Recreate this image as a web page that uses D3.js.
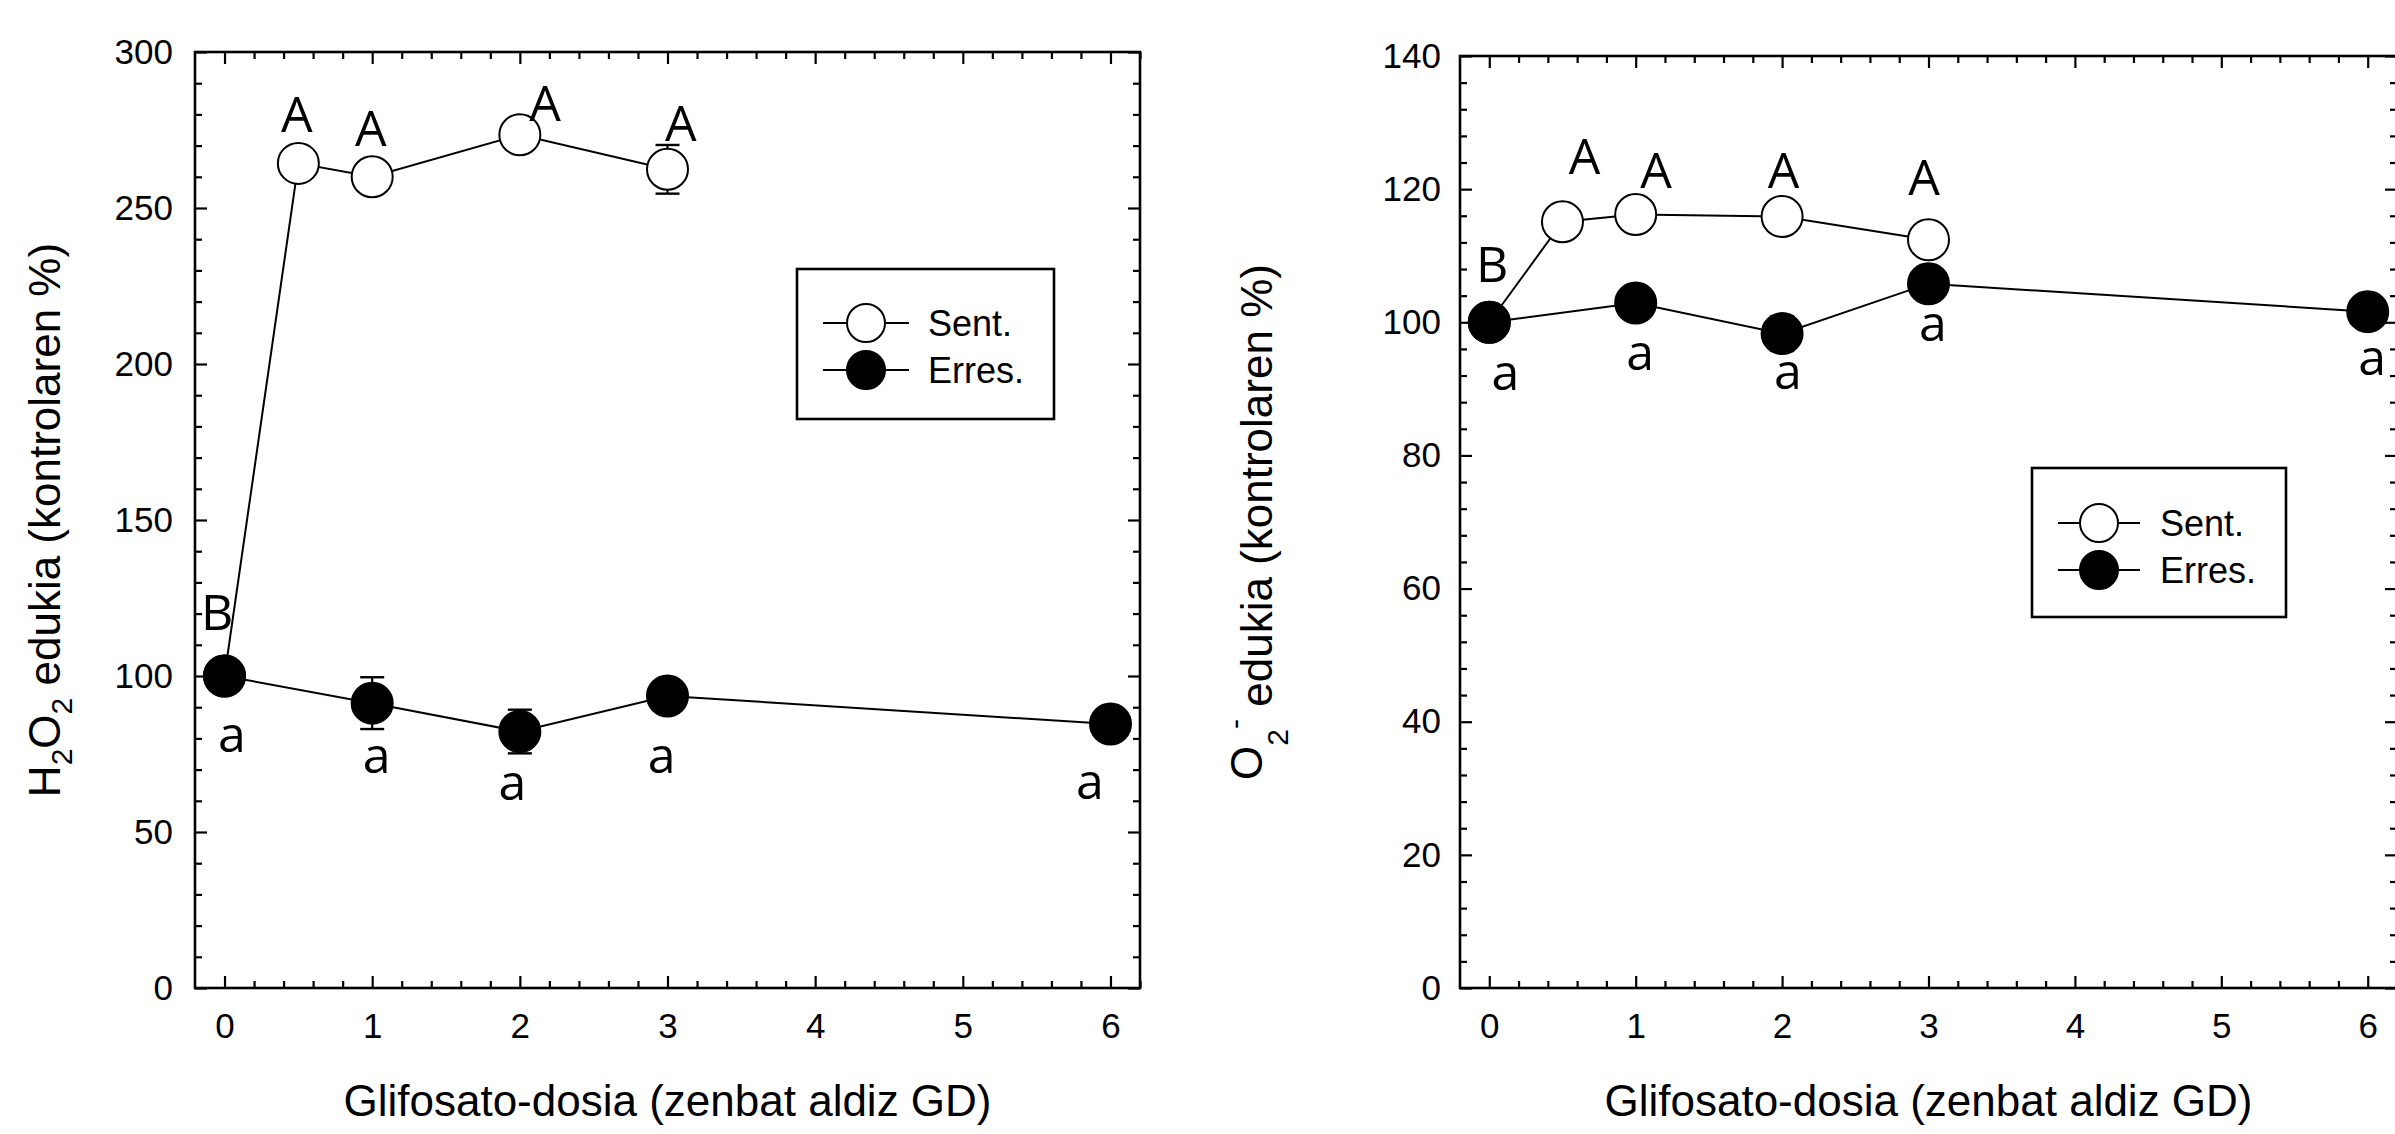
<!DOCTYPE html>
<html><head><meta charset="utf-8">
<script src="https://cdn.jsdelivr.net/npm/d3@7"></script>
<style>body{margin:0;background:#fff} svg{display:block}</style>
</head><body>
<svg id="chart" width="2395" height="1134"></svg>
<script>
// ---------- DATA ----------
const xTicks = [0, 1, 2, 3, 4, 5, 6];
const seriesNames = ["Sent.", "Erres."];

// Panel 1: H2O2
const h2o2SentX = [0, 0.5, 1, 2, 3];
const h2o2SentY = [100, 264.3, 260.0, 273.5, 262.4];
const h2o2SentErr = [0, 0, 0, 0, 7.8];
const h2o2ErresX = [0, 1, 2, 3, 6];
const h2o2ErresY = [100, 91.3, 82.2, 93.6, 84.6];
const h2o2ErresErr = [0, 8.3, 7.0, 0, 0];
const h2o2YTicks = [0, 50, 100, 150, 200, 250, 300];
const h2o2LetterText = ["B", "a", "a", "a", "a", "a", "A", "A", "A", "A"];
const h2o2LetterX = [-0.05, 0.05, 1.03, 1.95, 2.96, 5.86, 0.49, 0.99, 2.17, 3.09];
const h2o2LetterY = [114.7, 75.7, 68.8, 60.2, 68.8, 60.6, 274.5, 269.8, 277.8, 271.6];

// Panel 2: O2-
const o2SentX = [0, 0.5, 1, 2, 3];
const o2SentY = [100, 115.1, 116.2, 115.9, 112.4];
const o2SentErr = [0, 0, 0, 0, 0];
const o2ErresX = [0, 1, 2, 3, 6];
const o2ErresY = [100, 102.9, 98.3, 105.8, 101.6];
const o2ErresErr = [0, 0, 2.6, 0, 0];
const o2YTicks = [0, 20, 40, 60, 80, 100, 120, 140];
const o2LetterText = ["B", "a", "a", "a", "a", "a", "A", "A", "A", "A"];
const o2LetterX = [0.02, 0.11, 1.03, 2.04, 3.03, 6.03, 0.65, 1.14, 2.01, 2.97];
const o2LetterY = [106.1, 89.8, 92.9, 90.0, 97.2, 92.1, 122.2, 120.2, 120.2, 119.1];

const xTitle = "Glifosato-dosia (zenbat aldiz GD)";

// ---------- DRAW ----------
const svg = d3.select("#chart");
svg.append("rect").attr("width", 2395).attr("height", 1134).attr("fill", "#fff");

const SANS = "'Liberation Sans', Arial, sans-serif";
const LETTER = "'Open Sans', 'Noto Sans', sans-serif";

function panel(cfg) {
  const g = svg.append("g");
  const x = d3.scaleLinear().domain([-0.2, 6.2]).range([cfg.left, cfg.right]);
  const y = d3.scaleLinear().domain([0, cfg.yMax]).range([cfg.bottom, cfg.top]);
  const xMinor = d3.range(0, 6.2001, 0.2).filter(v => Math.abs(v - Math.round(v)) > 1e-6);
  const yMinor = d3.range(0, cfg.yMax + 0.001, cfg.yMinorStep).filter(v => !cfg.yTicks.includes(Math.round(v * 1000) / 1000));

  function styleAxis(sel) {
    sel.select(".domain").remove();
    sel.selectAll(".tick line").attr("stroke", "#000").attr("stroke-width", 2.2);
    sel.selectAll(".tick text").attr("fill", "#000").attr("font-family", SANS).attr("font-size", 35);
  }
  // bottom
  g.append("g").attr("transform", `translate(0,${cfg.bottom})`)
    .call(d3.axisBottom(x).tickValues(xTicks).tickSize(-12).tickPadding(25).tickFormat(d3.format("d"))).call(styleAxis);
  g.append("g").attr("transform", `translate(0,${cfg.bottom})`)
    .call(d3.axisBottom(x).tickValues(xMinor).tickSize(-7).tickFormat("")).call(styleAxis);
  // top
  g.append("g").attr("transform", `translate(0,${cfg.top})`)
    .call(d3.axisTop(x).tickValues(xTicks).tickSize(-12).tickFormat("")).call(styleAxis);
  g.append("g").attr("transform", `translate(0,${cfg.top})`)
    .call(d3.axisTop(x).tickValues(xMinor).tickSize(-7).tickFormat("")).call(styleAxis);
  // left
  g.append("g").attr("transform", `translate(${cfg.left},0)`)
    .call(d3.axisLeft(y).tickValues(cfg.yTicks).tickSize(-12).tickPadding(cfg.yPad).tickFormat(d3.format("d"))).call(styleAxis);
  g.append("g").attr("transform", `translate(${cfg.left},0)`)
    .call(d3.axisLeft(y).tickValues(yMinor).tickSize(-7).tickFormat("")).call(styleAxis);
  // right
  g.append("g").attr("transform", `translate(${cfg.right},0)`)
    .call(d3.axisRight(y).tickValues(cfg.yTicks).tickSize(-12).tickFormat("")).call(styleAxis);
  g.append("g").attr("transform", `translate(${cfg.right},0)`)
    .call(d3.axisRight(y).tickValues(yMinor).tickSize(-7).tickFormat("")).call(styleAxis);

  // frame
  g.append("rect").attr("x", cfg.left).attr("y", cfg.top)
    .attr("width", cfg.right - cfg.left).attr("height", cfg.bottom - cfg.top)
    .attr("fill", "none").attr("stroke", "#000").attr("stroke-width", 2.6);

  const line = d3.line().x(d => x(d[0])).y(d => y(d[1]));
  const R = 20.5;
  function drawSeries(xs, ys, errs, fill) {
    const pts = xs.map((v, i) => [v, ys[i], errs[i]]);
    g.append("path").datum(pts).attr("d", line).attr("fill", "none")
      .attr("stroke", "#000").attr("stroke-width", 2);
    const eb = g.append("g");
    pts.filter(p => p[2] > 0).forEach(p => {
      const cx = x(p[0]);
      eb.append("line").attr("x1", cx).attr("x2", cx).attr("y1", y(p[1] - p[2])).attr("y2", y(p[1] + p[2]))
        .attr("stroke", "#000").attr("stroke-width", 2.2);
      [p[1] - p[2], p[1] + p[2]].forEach(v => {
        eb.append("line").attr("x1", cx - 12).attr("x2", cx + 12).attr("y1", y(v)).attr("y2", y(v))
          .attr("stroke", "#000").attr("stroke-width", 2.4);
      });
    });
    g.append("g").selectAll("circle").data(pts).join("circle")
      .attr("cx", d => x(d[0])).attr("cy", d => y(d[1])).attr("r", R)
      .attr("fill", fill).attr("stroke", "#000").attr("stroke-width", 2);
  }
  drawSeries(cfg.sentX, cfg.sentY, cfg.sentErr, "#fff");
  drawSeries(cfg.erresX, cfg.erresY, cfg.erresErr, "#000");

  // letters
  g.append("g").selectAll("text").data(cfg.letterText).join("text")
    .attr("x", (d, i) => x(cfg.letterX[i])).attr("y", (d, i) => y(cfg.letterY[i]))
    .attr("text-anchor", "middle").attr("font-family", LETTER).attr("font-size", 50)
    .attr("fill", "#000").text(d => d);

  // x title
  g.append("text").attr("x", (cfg.left + cfg.right) / 2).attr("y", 1116)
    .attr("text-anchor", "middle").attr("font-family", SANS).attr("font-size", 44)
    .attr("fill", "#000").text(xTitle);

  // y title
  const yt = g.append("text")
    .attr("transform", `translate(${cfg.yTitleX},${(cfg.top + cfg.bottom) / 2}) rotate(-90)`)
    .attr("text-anchor", "middle").attr("font-family", SANS).attr("font-size", 44).attr("fill", "#000");
  cfg.yTitle(yt);

  // legend
  const L = cfg.legend;
  const lg = g.append("g");
  lg.append("rect").attr("x", L.x0).attr("y", L.y0).attr("width", L.x1 - L.x0).attr("height", L.y1 - L.y0)
    .attr("fill", "#fff").attr("stroke", "#000").attr("stroke-width", 2.6);
  seriesNames.forEach((name, i) => {
    const cy = L.rowY[i];
    lg.append("line").attr("x1", L.lx0).attr("x2", L.lx1).attr("y1", cy).attr("y2", cy)
      .attr("stroke", "#000").attr("stroke-width", 2);
    lg.append("circle").attr("cx", (L.lx0 + L.lx1) / 2).attr("cy", cy).attr("r", 19)
      .attr("fill", i === 0 ? "#fff" : "#000").attr("stroke", "#000").attr("stroke-width", 2);
    lg.append("text").attr("x", L.tx).attr("y", cy + 13).attr("font-family", SANS).attr("font-size", 36)
      .attr("fill", "#000").text(name);
  });
}

panel({
  left: 195, right: 1140, top: 52, bottom: 988, yMax: 300, yTicks: h2o2YTicks, yMinorStep: 10, yPad: 22,
  sentX: h2o2SentX, sentY: h2o2SentY, sentErr: h2o2SentErr,
  erresX: h2o2ErresX, erresY: h2o2ErresY, erresErr: h2o2ErresErr,
  letterText: h2o2LetterText, letterX: h2o2LetterX, letterY: h2o2LetterY,
  yTitleX: 60,
  yTitle: t => {
    t.append("tspan").text("H");
    t.append("tspan").attr("font-size", 30).attr("dy", 12).text("2");
    t.append("tspan").attr("dy", -12).text("O");
    t.append("tspan").attr("font-size", 30).attr("dy", 12).text("2");
    t.append("tspan").attr("dy", -12).text(" edukia (kontrolaren %)");
  },
  legend: { x0: 797, x1: 1054, y0: 269, y1: 419, rowY: [323, 370], lx0: 823, lx1: 909, tx: 928 }
});

panel({
  left: 1460, right: 2397, top: 56, bottom: 988, yMax: 140, yTicks: o2YTicks, yMinorStep: 4, yPad: 19,
  sentX: o2SentX, sentY: o2SentY, sentErr: o2SentErr,
  erresX: o2ErresX, erresY: o2ErresY, erresErr: o2ErresErr,
  letterText: o2LetterText, letterX: o2LetterX, letterY: o2LetterY,
  yTitleX: 1272,
  yTitle: t => {
    t.append("tspan").attr("dy", -10).text("O");
    t.append("tspan").attr("font-size", 30).attr("dy", 26).text("2");
    t.append("tspan").attr("font-size", 30).attr("dy", -43).text("-");
    t.append("tspan").attr("dy", 27).text(" edukia (kontrolaren %)");
  },
  legend: { x0: 2032, x1: 2286, y0: 468, y1: 617, rowY: [523, 570], lx0: 2058, lx1: 2140, tx: 2160 }
});
</script>
</body></html>
